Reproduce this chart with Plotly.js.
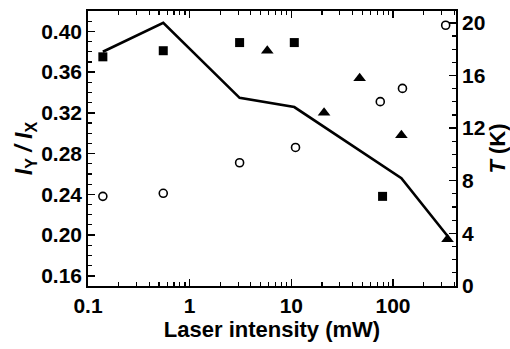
<!DOCTYPE html>
<html>
<head>
<meta charset="utf-8">
<script src="https://cdn.plot.ly/plotly-3.0.1.min.js"></script>
<style>html,body{margin:0;padding:0;background:#fff;}#chart{width:510px;height:349px;}</style>
</head>
<body>
<div id="chart"></div>
<script>
// Squares (I_Y/I_X)
var sqX = [0.14, 0.55, 3.1, 10.7, 79];
var sqY = [0.375, 0.381, 0.389, 0.389, 0.238];
// Triangles (I_Y/I_X)
var triX = [5.8, 21, 47, 121, 344];
var triY = [0.381, 0.320, 0.354, 0.298, 0.196];
// Open circles (I_Y/I_X)
var cirX = [0.14, 0.55, 3.1, 11, 75, 124, 330];
var cirY = [0.238, 0.241, 0.271, 0.286, 0.331, 0.344, 0.406];
// Line: temperature T (K), right axis
var lineX = [0.14, 0.55, 3.1, 10.7, 121, 344];
var lineT = [17.8, 20.0, 14.3, 13.6, 8.2, 3.8];

var xTickVals = [0.1, 1, 10, 100];
var xTickText = ['0.1', '1', '10', '100'];
var yTickVals = [0.16, 0.20, 0.24, 0.28, 0.32, 0.36, 0.40];
var yTickText = ['0.16', '0.20', '0.24', '0.28', '0.32', '0.36', '0.40'];
var y2TickVals = [0, 4, 8, 12, 16, 20];

var FONT = 'Liberation Sans, Arial, sans-serif';
var traces = [
  {x: lineX, y: lineT, yaxis: 'y2', mode: 'lines', line: {color: '#000', width: 2.6}, showlegend: false, hoverinfo: 'none'},
  {x: sqX, y: sqY, mode: 'markers', marker: {symbol: 'square', size: 9, color: '#000'}, showlegend: false},
  {x: triX, y: triY, mode: 'markers', marker: {symbol: 'triangle-up', size: 11, color: '#000'}, showlegend: false},
  {x: cirX, y: cirY, mode: 'markers', marker: {symbol: 'circle-open', size: 8, color: '#000', line: {width: 1.6, color: '#000'}}, showlegend: false}
];

var layout = {
  width: 510, height: 349,
  margin: {l: 88, r: 54, t: 11, b: 63},
  paper_bgcolor: '#fff', plot_bgcolor: '#fff',
  font: {family: FONT, color: '#000', size: 21, weight: 'bold'},
  xaxis: {
    type: 'log', range: [-1, 2.62],
    tickvals: xTickVals, ticktext: xTickText,
    ticks: 'inside', ticklen: 7, tickwidth: 1.5, tickcolor: '#000',
    minor: {ticks: 'inside', ticklen: 4, tickwidth: 1.2, tickcolor: '#000', dtick: 'D1', showgrid: false},
    showline: true, linecolor: '#000', linewidth: 1.8, mirror: 'ticks',
    showgrid: false, zeroline: false,
    tickfont: {family: FONT, size: 21, weight: 'bold'},
    title: {text: 'Laser intensity (mW)', font: {family: FONT, size: 22, weight: 'bold'}, standoff: 4}
  },
  yaxis: {
    range: [0.15, 0.42],
    tickvals: yTickVals, ticktext: yTickText,
    ticks: 'inside', ticklen: 7, tickwidth: 1.5, tickcolor: '#000',
    minor: {ticks: 'inside', ticklen: 4, tickwidth: 1.2, tickcolor: '#000', dtick: 0.01, tick0: 0.16, showgrid: false},
    showline: true, linecolor: '#000', linewidth: 1.8,
    showgrid: false, zeroline: false,
    tickfont: {family: FONT, size: 21, weight: 'bold'},
    title: {text: '<i>I</i><sub>Y</sub><i> / I</i><sub>X</sub>', font: {family: FONT, size: 23, weight: 'bold'}, standoff: 2}
  },
  yaxis2: {
    overlaying: 'y', side: 'right', range: [0, 20.9],
    tickvals: y2TickVals,
    ticks: 'inside', ticklen: 7, tickwidth: 1.5, tickcolor: '#000',
    minor: {ticks: 'inside', ticklen: 4, tickwidth: 1.2, tickcolor: '#000', dtick: 1, tick0: 0, showgrid: false},
    showline: true, linecolor: '#000', linewidth: 1.8,
    showgrid: false, zeroline: false,
    tickfont: {family: FONT, size: 21, weight: 'bold'},
    title: {text: '<i>T</i> (K)', font: {family: FONT, size: 22, weight: 'bold'}, standoff: 4}
  }
};

Plotly.newPlot('chart', traces, layout, {staticPlot: true, displayModeBar: false});
</script>
</body>
</html>
